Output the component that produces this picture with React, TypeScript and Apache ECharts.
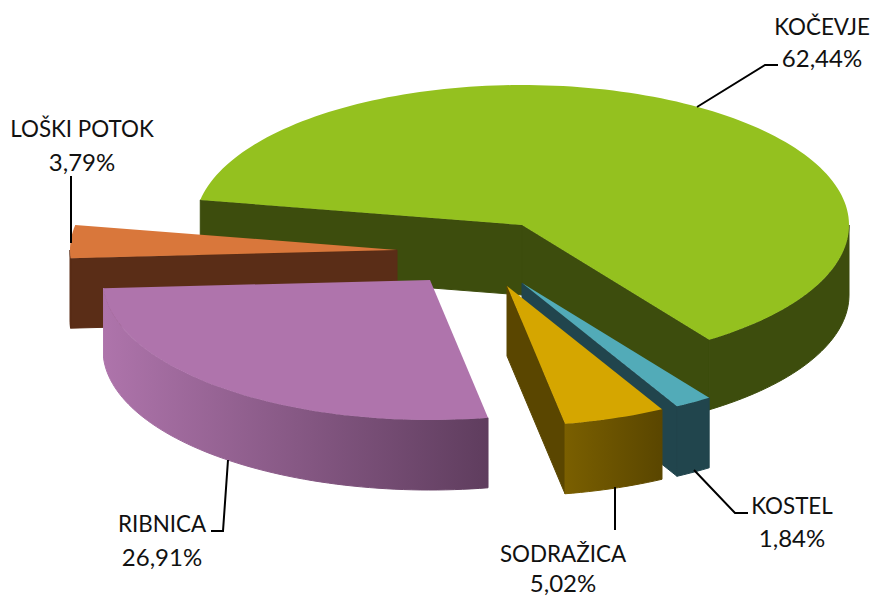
import React, { useEffect, useRef } from "react";
import * as echarts from "echarts";

const names = ["KOČEVJE", "KOSTEL", "SODRAŽICA", "RIBNICA", "LOŠKI POTOK"];
const shares = [62.44, 1.84, 5.02, 26.91, 3.79];

const W = 871, H = 596;
const CX = 522, CY = 225, RX = 327, RY = 140, DEPTH = 70, START = 190.3;
const drawOrder = [0, 4, 3, 1, 2];
const offsets = [[0, 0], [0, 58], [-15, 61], [-92, 55], [-125, 25]];
const topColors = ["#94C11F", "#52ABB8", "#D5A600", "#AF74AC", "#D9773B"];
const wallColors = ["#3D4D0D", "#21454D", "#5A4600", "#6F4A6E", "#5A2D17"];
const outerWall: (string | string[])[] = ["#3D4D0D", "#21454D", ["#7A5F00", "#5A4600"], ["#AE74AB", "#5F3D5E"], "#5A2D17"];
const labelPos = [[822, 26, 57], [792, 505, 537], [563, 553, 582], [162, 523, 556], [82, 128, 161]];
const leaders = [
  [[697, 107], [765, 65], [778, 65]],
  [[694, 470], [735, 513], [748, 513]],
  [[615, 487], [615, 530]],
  [[228, 460], [223, 531], [211, 531]],
  [[71, 176], [71, 243]],
];

const rad = (d: number) => (d * Math.PI) / 180;
const total = shares.reduce((a, b) => a + b, 0);
const starts: number[] = [];
shares.reduce((acc, v, i) => { starts[i] = acc; return acc + (v / total) * 360; }, START);

function arc(cx: number, cy: number, a0: number, a1: number) {
  const pts: number[][] = [];
  const n = Math.max(2, Math.ceil(Math.abs(a1 - a0) / 1.5));
  for (let i = 0; i <= n; i++) {
    const t = rad(a0 + ((a1 - a0) * i) / n);
    pts.push([cx + RX * Math.cos(t), cy + RY * Math.sin(t)]);
  }
  return pts;
}

function wallFill(c: string | string[]) {
  return Array.isArray(c)
    ? new echarts.graphic.LinearGradient(0, 0, 1, 0, [
        { offset: 0, color: c[0] },
        { offset: 1, color: c[1] },
      ])
    : c;
}

function renderItem(params: any, api: any) {
  const i = api.value(0);
  const a0 = starts[i];
  const a1 = a0 + (api.value(1) / total) * 360;
  const cx = CX + offsets[i][0];
  const cy = CY + offsets[i][1];
  const children: any[] = [];
  const cutWall = (a: number) => {
    const t = rad(a);
    const p = [cx + RX * Math.cos(t), cy + RY * Math.sin(t)];
    children.push({
      type: "polygon",
      shape: { points: [[cx, cy], p, [p[0], p[1] + DEPTH], [cx, cy + DEPTH]] },
      style: { fill: wallColors[i], stroke: wallColors[i], lineWidth: 1 },
    });
  };
  // A cut face shows when its outward normal points to the viewer.
  if (Math.sin(rad(a0 + 90 + 180)) > 0) cutWall(a0);
  if (Math.sin(rad(a1 + 90)) > 0) cutWall(a1);
  // Outer rim: only the front half (sin > 0) of the ellipse can be seen.
  for (const k of [0, 360]) {
    const f0 = Math.max(a0, k);
    const f1 = Math.min(a1, k + 180);
    if (f1 > f0) {
      const top = arc(cx, cy, f0, f1);
      const bottom = top.map((p) => [p[0], p[1] + DEPTH]).reverse();
      children.push({
        type: "polygon",
        shape: { points: top.concat(bottom) },
        style: { fill: wallFill(outerWall[i]), stroke: wallFill(outerWall[i]), lineWidth: 1 },
      });
    }
  }
  children.push({
    type: "polygon",
    shape: { points: [[cx, cy], ...arc(cx, cy, a0, a1)] },
    style: { fill: topColors[i] },
  });
  return { type: "group", children };
}

export default function App() {
  const ref = useRef<HTMLDivElement>(null);
  useEffect(() => {
    document.body.style.margin = "0";
    const chart = echarts.init(ref.current!, undefined, { renderer: "svg" });
    const textStyle = { fontFamily: "Lato", fill: "#111", align: "center", verticalAlign: "middle", lineHeight: 20 };
    chart.setOption({
      animation: false,
      backgroundColor: "#fff",
      series: [
        {
          type: "custom",
          coordinateSystem: "none",
          renderItem,
          clip: false,
          silent: true,
          data: drawOrder.map((i) => [i, shares[i]]),
        },
      ],
      graphic: {
        elements: [
          ...leaders.map((points) => ({
            type: "polyline",
            z: 10,
            shape: { points },
            style: { stroke: "#000", lineWidth: 2, fill: "none" },
          })),
          ...names.flatMap((name, i) => [
            { type: "text", z: 10, x: labelPos[i][0], y: labelPos[i][1], style: { ...textStyle, fontSize: 22.4, text: name } },
            {
              type: "text",
              z: 10,
              x: labelPos[i][0],
              y: labelPos[i][2],
              style: { ...textStyle, fontSize: 24, text: shares[i].toFixed(2).replace(".", ",") + "%" },
            },
          ]),
        ],
      },
    });
    return () => chart.dispose();
  }, []);
  return <div ref={ref} style={{ position: "absolute", left: 0, top: 0, width: W, height: H }} />;
}
